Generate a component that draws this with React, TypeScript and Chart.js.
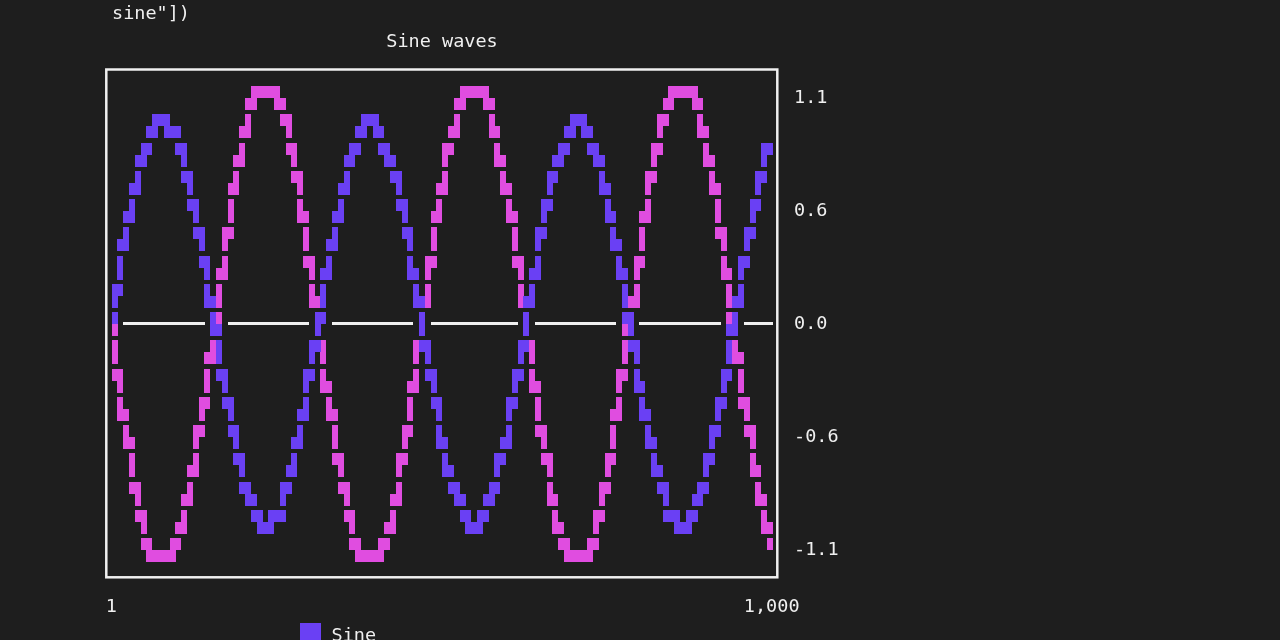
import { useEffect, useRef } from "react";
import { Chart, registerables } from "chart.js";

Chart.register(...registerables);

// ---------- data ----------
const CODE_LINE = 'sine"])';
const TITLE = "Sine waves";
const SERIES_NAMES = ["Sine", "Negative sine"];
const SERIES_COLORS = ["#6a40f4", "#e04de0"];

// sample positions (x = 1 … 1000)
const SAMPLE_X_START = 1.5;
const SAMPLE_X_STEP = 8.775;

const SINE = [
  0.03, 0.2, 0.37, 0.53, 0.67, 0.79, 0.88, 0.95, 0.99, 1.0,
  0.98, 0.93, 0.85, 0.74, 0.61, 0.46, 0.3, 0.13, -0.05, -0.22,
  -0.39, -0.54, -0.68, -0.8, -0.89, -0.96, -0.99, -1.0, -0.97, -0.92,
  -0.84, -0.73, -0.6, -0.45, -0.28, -0.11, 0.07, 0.24, 0.4, 0.56,
  0.69, 0.81, 0.9, 0.96, 1.0, 1.0, 0.97, 0.91, 0.83, 0.71,
  0.58, 0.43, 0.27, 0.09, -0.08, -0.26, -0.42, -0.57, -0.71, -0.82,
  -0.91, -0.97, -1.0, -1.0, -0.97, -0.9, -0.82, -0.7, -0.57, -0.41,
  -0.25, -0.08, 0.1, 0.27, 0.44, 0.59, 0.72, 0.83, 0.91, 0.97,
  1.0, 0.99, 0.96, 0.9, 0.81, 0.69, 0.55, 0.4, 0.23, 0.06,
  -0.12, -0.29, -0.45, -0.6, -0.73, -0.84, -0.92, -0.98, -1.0, -0.99,
  -0.96, -0.89, -0.8, -0.68, -0.54, -0.38, -0.22, -0.04, 0.13, 0.31,
  0.47, 0.61, 0.74, 0.85, 0.9,
];

const NEG_SINE = [
  -0.04, -0.24, -0.45, -0.63, -0.8, -0.95, -1.06, -1.14, -1.19, -1.2,
  -1.17, -1.11, -1.01, -0.89, -0.73, -0.55, -0.36, -0.15, 0.06, 0.27,
  0.47, 0.65, 0.82, 0.96, 1.07, 1.15, 1.19, 1.2, 1.17, 1.1,
  1.0, 0.87, 0.71, 0.54, 0.34, 0.13, -0.08, -0.29, -0.48, -0.67,
  -0.83, -0.97, -1.08, -1.15, -1.19, -1.2, -1.16, -1.09, -0.99, -0.86,
  -0.7, -0.52, -0.32, -0.11, 0.1, 0.31, 0.5, 0.69, 0.85, 0.98,
  1.09, 1.16, 1.2, 1.2, 1.16, 1.08, 0.98, 0.84, 0.68, 0.5,
  0.3, 0.09, -0.12, -0.33, -0.52, -0.7, -0.86, -0.99, -1.1, -1.17,
  -1.2, -1.19, -1.15, -1.08, -0.97, -0.83, -0.66, -0.48, -0.28, -0.07,
  0.14, 0.35, 0.54, 0.72, 0.88, 1.01, 1.11, 1.17, 1.2, 1.19,
  1.15, 1.07, 0.95, 0.81, 0.65, 0.46, 0.26, 0.05, -0.16, -0.37,
  -0.56, -0.74, -0.89, -1.02, -1.08,
];

const X_TICKS = [1, 1000];
const X_TICK_LABELS = ["1", "1,000"];
const Y_TICKS = [1.1294, 0.5647, 0, -0.5647, -1.1294];
const Y_TICK_LABELS = ["1.1", "0.6", "0.0", "-0.6", "-1.1"];

// ---------- terminal-grid styling ----------
const GRID_TOP = 1.2;
const GRID_BOTTOM = -1.2;
const SUBROWS = 34;
const ROW0_CENTER = 1.1294;
const ROW_PITCH = 0.14118;
const HALF_OFFSET = 0.02998;
const Y_MIN = -1.2641;
const Y_MAX = 1.2696;
const X_MIN = -5.61;
const X_MAX = 1008.05;

const BG = "#1e1e1e";
const FG = "#f0f0f0";
const FONT_FAMILY = "'DejaVu Sans Mono', monospace";
const FONT_SIZE = 18.5;

function subrowOf(v: number) {
  const s = Math.floor(((GRID_TOP - v) / (GRID_TOP - GRID_BOTTOM)) * SUBROWS);
  return Math.max(0, Math.min(SUBROWS - 1, s));
}
function subrowValue(s: number) {
  const k = Math.floor(s / 2);
  return ROW0_CENTER - ROW_PITCH * k + (s % 2 === 0 ? HALF_OFFSET : -HALF_OFFSET);
}
function columnRanges(values: number[]) {
  const out: [number, number][] = [];
  for (let c = 0; c < values.length - 1; c++) {
    const a = subrowOf(values[c]);
    const b = subrowOf(values[c + 1]);
    out.push([Math.min(a, b), Math.max(a, b)]);
  }
  return out;
}
function colX(c: number) {
  return SAMPLE_X_START + SAMPLE_X_STEP * (c + 0.5);
}
function cellPoints(ranges: [number, number][]) {
  const pts: { x: number; y: number }[] = [];
  ranges.forEach(([lo, hi], c) => {
    for (let s = lo; s <= hi; s++) pts.push({ x: colX(c), y: subrowValue(s) });
  });
  return pts;
}
function block(color: string, w: number, h: number) {
  const cv = document.createElement("canvas");
  cv.width = w;
  cv.height = h;
  const g = cv.getContext("2d")!;
  g.fillStyle = color;
  g.fillRect(0, 0, w, h);
  return cv;
}

export default function App() {
  const ref = useRef<HTMLCanvasElement | null>(null);

  useEffect(() => {
    if (!ref.current) return;
    const rangesA = columnRanges(SINE);
    const rangesB = columnRanges(NEG_SINE);
    const occupied = rangesA.map(
      (r, c) =>
        (r[0] <= 17 && r[1] >= 16) || (rangesB[c][0] <= 17 && rangesB[c][1] >= 16)
    );
    const zeroPts: { x: number; y: number }[] = [];
    for (let c = 0; c < occupied.length; c++) {
      if (occupied[c] || occupied[c - 1] || occupied[c + 1]) continue;
      zeroPts.push({ x: colX(c), y: 0.004 });
    }

    const font = { family: FONT_FAMILY, size: FONT_SIZE };

    const decor = {
      id: "decor",
      beforeDatasetsDraw(chart: any) {
        const { ctx, chartArea: a } = chart;
        ctx.save();
        ctx.strokeStyle = FG;
        ctx.lineWidth = 2.5;
        ctx.strokeRect(a.left - 0.7, a.top - 0.5, a.right - a.left + 1, a.bottom - a.top + 0.8);
        ctx.restore();
        ctx.imageSmoothingEnabled = false;
      },
      afterDraw(chart: any) {
        const { ctx, chartArea: a } = chart;
        ctx.save();
        ctx.fillStyle = FG;
        ctx.font = `${FONT_SIZE}px ${FONT_FAMILY}`;
        ctx.textBaseline = "alphabetic";
        ctx.textAlign = "left";
        ctx.fillText(CODE_LINE, 112, 19);
        ctx.textAlign = "center";
        ctx.fillText(TITLE, (a.left + a.right) / 2, 47);
        // legend (first entry visible)
        const ds = chart.data.datasets[0];
        ctx.fillStyle = ds.backgroundColor;
        ctx.fillRect(300, 623, 21, 21);
        ctx.fillStyle = FG;
        ctx.textAlign = "left";
        ctx.fillText(ds.label, 331.5, 641);
        ctx.restore();
      },
    };

    const chart = new Chart(ref.current, {
      type: "scatter",
      data: {
        datasets: [
          {
            label: SERIES_NAMES[0],
            data: cellPoints(rangesA),
            backgroundColor: SERIES_COLORS[0],
            borderColor: SERIES_COLORS[0],
            pointStyle: block(SERIES_COLORS[0], 6, 12),
            pointRadius: 3,
          },
          {
            label: SERIES_NAMES[1],
            data: cellPoints(rangesB),
            backgroundColor: SERIES_COLORS[1],
            borderColor: SERIES_COLORS[1],
            pointStyle: block(SERIES_COLORS[1], 6, 12),
            pointRadius: 3,
          },
          {
            label: "zero",
            data: zeroPts,
            backgroundColor: FG,
            borderColor: FG,
            pointStyle: block(FG, 6, 3),
            pointRadius: 3,
          },
        ],
      } as any,
      options: {
        animation: false,
        responsive: false,
        devicePixelRatio: 1,
        events: [],
        layout: { padding: { left: 107, top: 70, right: 0, bottom: 0 } },
        plugins: {
          legend: { display: false },
          title: { display: false },
          tooltip: { enabled: false },
        },
        scales: {
          x: {
            type: "linear",
            position: "bottom",
            min: X_MIN,
            max: X_MAX,
            grid: { display: false, drawTicks: false },
            border: { display: false },
            afterBuildTicks: (scale: any) => {
              scale.ticks = X_TICKS.map((v) => ({ value: v }));
            },
            afterFit: (scale: any) => {
              scale.height = 63;
            },
            ticks: {
              autoSkip: false,
              maxRotation: 0,
              padding: 19,
              color: FG,
              font,
              callback: (_v: any, i: number) => X_TICK_LABELS[i],
            },
          },
          y: {
            type: "linear",
            position: "right",
            min: Y_MIN,
            max: Y_MAX,
            grid: { display: false, drawTicks: false },
            border: { display: false },
            afterBuildTicks: (scale: any) => {
              scale.ticks = Y_TICKS.map((v) => ({ value: v }));
            },
            afterFit: (scale: any) => {
              scale.width = 503;
            },
            ticks: {
              autoSkip: false,
              padding: 17,
              color: FG,
              font,
              callback: (_v: any, i: number) => Y_TICK_LABELS[i],
            },
          },
        },
      } as any,
      plugins: [decor],
    });
    return () => chart.destroy();
  }, []);

  return (
    <div
      style={{
        position: "fixed",
        left: 0,
        top: 0,
        width: 1280,
        height: 640,
        background: BG,
        overflow: "hidden",
      }}
    >
      <canvas ref={ref} width={1280} height={640} style={{ display: "block" }} />
    </div>
  );
}
